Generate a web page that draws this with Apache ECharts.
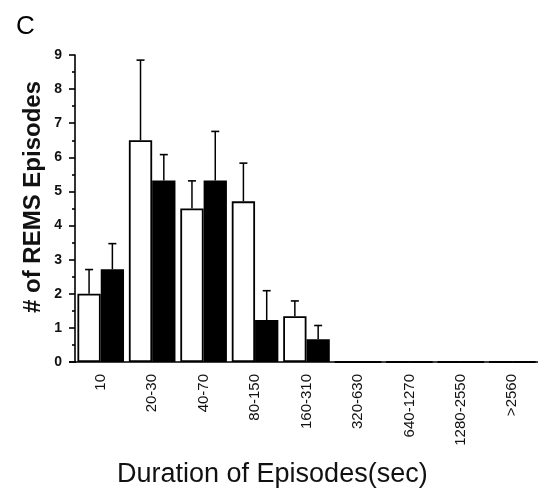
<!DOCTYPE html>
<html>
<head>
<meta charset="utf-8">
<script src="https://cdn.jsdelivr.net/npm/echarts@6/dist/echarts.min.js"></script>
<style>
  html, body { margin: 0; padding: 0; background: #fff; }
  #chart { width: 538px; height: 494px; }
</style>
</head>
<body>
<div id="chart"></div>
<script>
// Duration bins of REMS episodes
var categories = ['10', '20-30', '40-70', '80-150', '160-310', '320-630', '640-1270', '1280-2550', '>2560'];
// Group means (open bars / filled bars)
var openMeans = [2.0, 6.5, 4.5, 4.71, 1.34, 0, 0, 0, 0];
var filledMeans = [2.72, 5.32, 5.32, 1.23, 0.67, 0, 0, 0, 0];
// Upper error (mean + SEM)
var openUpper = [2.71, 8.85, 5.31, 5.83, 1.79, null, null, null, null];
var filledUpper = [3.47, 6.08, 6.76, 2.09, 1.07, null, null, null, null];
var yTicks = [0, 1, 2, 3, 4, 5, 6, 7, 8, 9];

var BAR_W = 23.3;
var FONT = 'Liberation Sans, Arial, sans-serif';

function errorSeries(upper, means, side) {
  var data = [];
  for (var i = 0; i < upper.length; i++) {
    if (upper[i] != null) data.push([i, means[i], upper[i]]);
  }
  return {
    type: 'custom',
    z: 1,
    data: data,
    renderItem: function (params, api) {
      var base = api.coord([api.value(0), api.value(1)]);
      var top = api.coord([api.value(0), api.value(2)]);
      var x = base[0] + side * BAR_W / 2;
      var cap = 4;
      return {
        type: 'group',
        children: [
          { type: 'line', shape: { x1: x, y1: base[1], x2: x, y2: top[1] },
            style: { stroke: '#000', lineWidth: 1.5 } },
          { type: 'line', shape: { x1: x - cap, y1: top[1], x2: x + cap, y2: top[1] },
            style: { stroke: '#000', lineWidth: 1.6 } }
        ]
      };
    }
  };
}

var chart = echarts.init(document.getElementById('chart'), null, { renderer: 'canvas' });
chart.setOption({
  animation: false,
  backgroundColor: '#fff',
  textStyle: { fontFamily: FONT },
  title: [{
    text: 'C', left: 11, top: 9,
    textStyle: { fontFamily: FONT, fontSize: 26, fontWeight: 'normal', color: '#000' }
  }, {
    text: 'Duration of Episodes(sec)', left: 112, top: 456,
    textStyle: { fontFamily: FONT, fontSize: 27, fontWeight: 'normal', color: '#111' }
  }],
  graphic: [{
    type: 'text',
    x: 33, y: 197,
    rotation: Math.PI / 2,
    style: {
      text: '# of REMS Episodes',
      font: 'bold 24px ' + FONT,
      fill: '#111',
      textAlign: 'center',
      textVerticalAlign: 'middle'
    }
  }, {
    // short extension of the baseline left of the value axis
    type: 'line',
    shape: { x1: 69, y1: 362, x2: 76, y2: 362 },
    style: { stroke: '#000', lineWidth: 1.6 }
  }],
  grid: { left: 75, right: -0.5, top: 55, bottom: 132, containLabel: false },
  xAxis: {
    type: 'category',
    data: categories,
    boundaryGap: true,
    axisLine: { lineStyle: { color: '#000', width: 1.6 } },
    axisTick: { alignWithLabel: true, length: 3, lineStyle: { color: '#000', width: 1.6 } },
    axisLabel: {
      rotate: 90, margin: 12, interval: 0,
      fontFamily: FONT, fontSize: 15, color: '#111'
    }
  },
  yAxis: {
    type: 'value',
    min: 0, max: 9, interval: 1,
    splitLine: { show: false },
    axisLine: { show: true, lineStyle: { color: '#000', width: 1.6 } },
    axisTick: { show: true, length: 6, lineStyle: { color: '#000', width: 1.6 } },
    minorTick: { show: true, splitNumber: 2, length: 3, lineStyle: { color: '#000', width: 1.6 } },
    axisLabel: {
      margin: 13,
      fontFamily: FONT, fontSize: 14, fontWeight: 'bold', color: '#111',
      formatter: function (v) { return yTicks.indexOf(v) >= 0 ? String(v) : ''; }
    }
  },
  series: [{
    type: 'bar',
    data: openMeans,
    barWidth: BAR_W,
    barGap: '0%',
    itemStyle: { color: '#fff', borderColor: '#000', borderWidth: 1.8 },
    z: 2
  }, {
    type: 'bar',
    data: filledMeans,
    barWidth: BAR_W,
    barGap: '0%',
    itemStyle: { color: '#000', borderColor: '#000', borderWidth: 1.8 },
    z: 2
  },
    errorSeries(openUpper, openMeans, -1),
    errorSeries(filledUpper, filledMeans, 1)
  ]
});
</script>
</body>
</html>
